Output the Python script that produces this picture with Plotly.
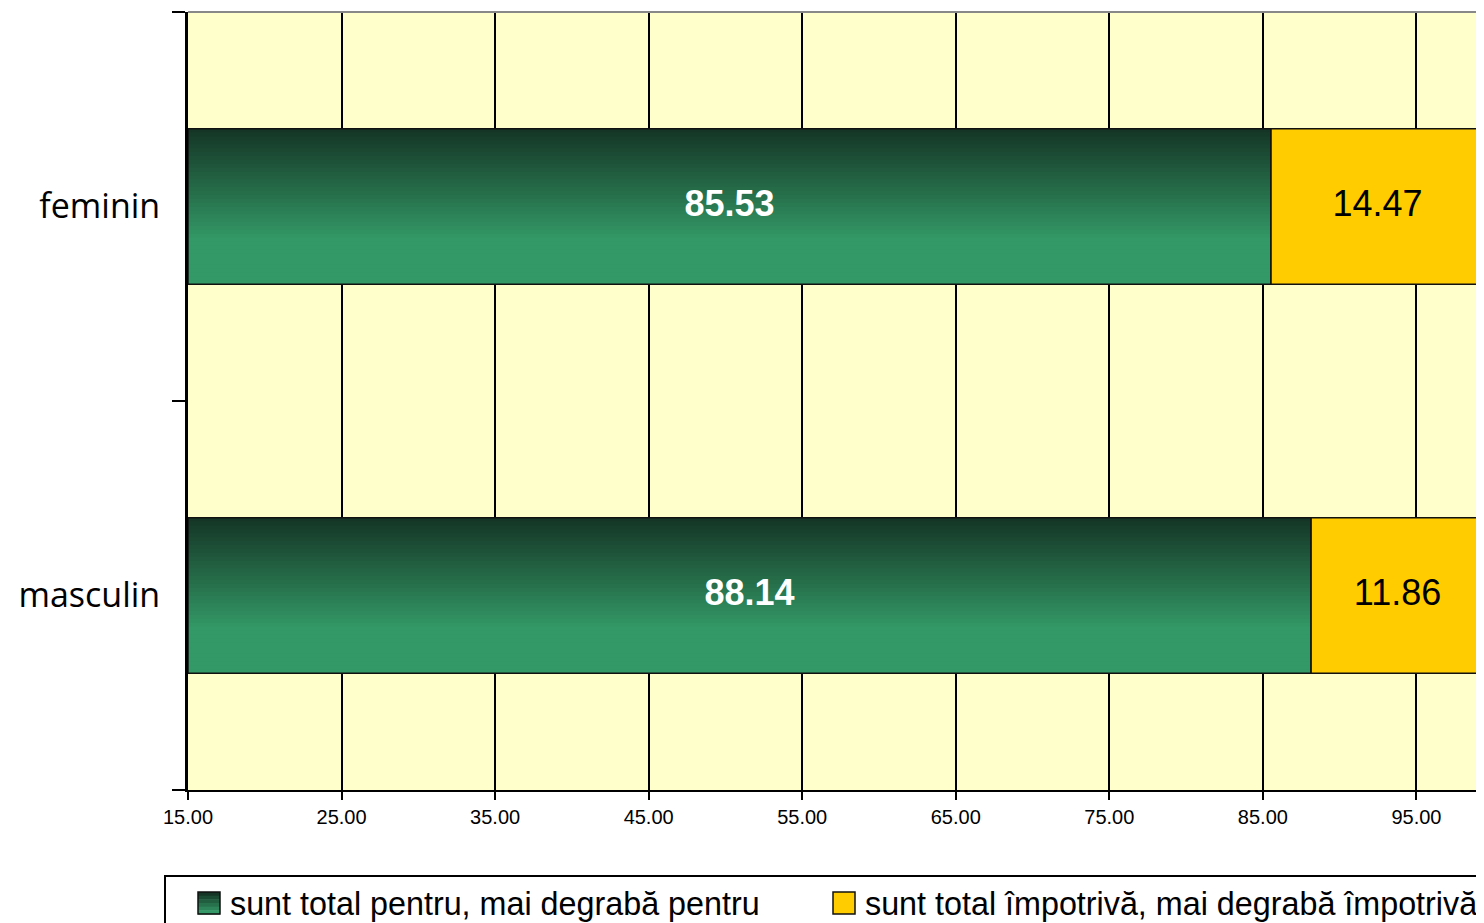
import plotly.graph_objects as go

# ---- data ----
categories = ["masculin", "feminin"]          # bottom -> top
pentru = [88.14, 85.53]                        # sunt total pentru, mai degrabă pentru
impotriva = [11.86, 14.47]                     # sunt total împotrivă, mai degrabă împotrivă
series_names = ["sunt total pentru, mai degrabă pentru",
                "sunt total împotrivă, mai degrabă împotrivă"]
tick_values = [15, 25, 35, 45, 55, 65, 75, 85, 95]

# ---- style ----
AXIS_MIN, AXIS_MAX = 15, 99.4
BAR_W = 0.4
GREEN_TOP = (21, 54, 38)
GREEN_BOT = (51, 153, 102)
YELLOW = "#FFCC00"
EDGE = "#111111"
N_STRIPES = 40
FONT = "Arial, Liberation Sans"

# layout geometry (the page body adds an 8px offset)
OFF = 8
ML, MR, MT, MB = 188 - OFF, OFF, 12 - OFF, 923 - 790 + OFF
W, H = 1484, 923
PW, PH = W - ML - MR, H - MT - MB


def px(xwin):
    return (xwin - OFF - ML) / PW


def py(ywin):
    return (H - MB - (ywin - OFF)) / PH


def grad(f):
    c = tuple(round(a + (b - a) * f) for a, b in zip(GREEN_TOP, GREEN_BOT))
    return "rgb(%d,%d,%d)" % c


fig = go.Figure()

# gradient: nested bars, each covering from the bottom edge up to its stripe top
sw = BAR_W / N_STRIPES
for i in range(N_STRIPES):
    t = i / (N_STRIPES - 1)
    fig.add_trace(go.Bar(
        y=categories, x=[v - AXIS_MIN for v in pentru], base=AXIS_MIN,
        orientation="h", width=BAR_W - i * sw, offset=-BAR_W / 2,
        marker=dict(color=grad(min(1.0, t / 0.72)), line=dict(width=0)),
        showlegend=False, hoverinfo="skip",
    ))

# outline on top of gradient
fig.add_trace(go.Bar(
    y=categories, x=[v - AXIS_MIN for v in pentru], base=AXIS_MIN,
    orientation="h", width=BAR_W, name=series_names[0],
    marker=dict(color="rgba(0,0,0,0)", line=dict(color=EDGE, width=1.5)),
    showlegend=False, hoverinfo="skip",
))

# yellow stacked part
fig.add_trace(go.Bar(
    y=categories, x=impotriva, base=pentru,
    orientation="h", width=BAR_W, name=series_names[1],
    marker=dict(color=YELLOW, line=dict(color=EDGE, width=1.5)),
    showlegend=False, hoverinfo="skip",
))

# labels
fig.add_trace(go.Scatter(
    y=categories, x=[(AXIS_MIN + v) / 2 for v in pentru],
    mode="text", text=["%.2f" % v for v in pentru],
    textfont=dict(family=FONT, size=36, color="white", weight="bold"),
    showlegend=False, hoverinfo="skip",
))
fig.add_trace(go.Scatter(
    y=categories,
    x=[(p + min(p + q, AXIS_MAX)) / 2 for p, q in zip(pentru, impotriva)],
    mode="text", text=["%.2f" % v for v in impotriva],
    textfont=dict(family=FONT, size=36, color="black"),
    showlegend=False, hoverinfo="skip",
))

# ---- legend (drawn as box + swatches + text so it can run past the page edge) ----
shapes = [
    dict(type="line", xref="paper", yref="paper", x0=0, x1=1, y0=1, y1=1,
         line=dict(color="#888888", width=2), layer="above"),
    dict(type="rect", xref="paper", yref="paper", x0=px(165), x1=px(1500),
         y0=py(876), y1=py(940), line=dict(color="black", width=2),
         fillcolor="white", layer="above"),
]
# green swatch with a small gradient
n_sw = 6
for k in range(n_sw):
    y_top = 892 + k * 22 / n_sw
    shapes.append(dict(type="rect", xref="paper", yref="paper",
                       x0=px(198), x1=px(220), y0=py(y_top + 22 / n_sw + 0.5), y1=py(y_top),
                       line=dict(width=0), fillcolor=grad(k / (n_sw - 1)), layer="above"))
shapes.append(dict(type="rect", xref="paper", yref="paper",
                   x0=px(198), x1=px(220), y0=py(914), y1=py(892),
                   line=dict(color=EDGE, width=1.5), fillcolor="rgba(0,0,0,0)", layer="above"))
shapes.append(dict(type="rect", xref="paper", yref="paper",
                   x0=px(833), x1=px(855), y0=py(914), y1=py(892),
                   line=dict(color=EDGE, width=1.5), fillcolor=YELLOW, layer="above"))

annotations = [
    dict(text=series_names[0], xref="paper", yref="paper", x=px(228), y=py(904),
         xanchor="left", yanchor="middle", showarrow=False,
         font=dict(family=FONT, size=32.3, color="black")),
    dict(text=series_names[1], xref="paper", yref="paper", x=px(863), y=py(904),
         xanchor="left", yanchor="middle", showarrow=False,
         font=dict(family=FONT, size=32.3, color="black")),
]

fig.update_layout(
    width=W, height=H,
    margin=dict(l=ML, r=MR, t=MT, b=MB, autoexpand=False),
    barmode="overlay",
    paper_bgcolor="white",
    plot_bgcolor="#FFFFCC",
    showlegend=False,
    xaxis=dict(
        range=[AXIS_MIN, AXIS_MAX], tickvals=tick_values,
        tickformat=".2f", ticks="outside", ticklen=8, tickwidth=1.5, tickcolor="black",
        showgrid=True, gridcolor="black", gridwidth=1.5,
        showline=True, linecolor="black", linewidth=2,
        zeroline=False,
        tickfont=dict(family=FONT, size=20, color="black"),
    ),
    yaxis=dict(
        type="category", categoryorder="array", categoryarray=categories,
        range=[-0.5, 1.5], tickson="boundaries",
        ticks="outside", ticklen=13, tickwidth=2, tickcolor="black",
        showgrid=False, showline=True, linecolor="black", linewidth=3,
        ticklabelstandoff=18,
        tickfont=dict(family="Open Sans", size=34, color="black"),
    ),
    shapes=shapes,
    annotations=annotations,
)

fig.write_html("out.html")
